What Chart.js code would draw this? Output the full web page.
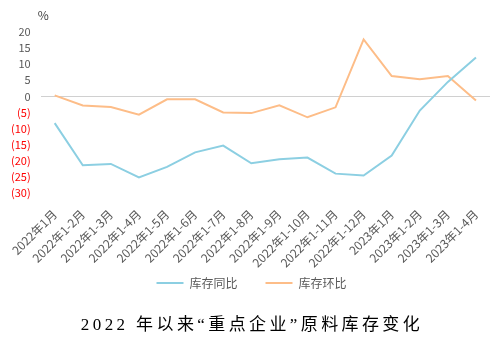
<!DOCTYPE html>
<html>
<head>
<meta charset="utf-8">
<script src="https://cdn.jsdelivr.net/npm/chart.js@4"></script>
<style>
  html, body { margin: 0; padding: 0; background: #fff; }
  #wrap { width: 500px; height: 348px; position: relative; }
</style>
</head>
<body>
<div id="wrap"><canvas id="chartKucun"></canvas></div>
<script>
const months = ['2022年1月', '2022年1-2月', '2022年1-3月', '2022年1-4月', '2022年1-5月', '2022年1-6月',
    '2022年1-7月', '2022年1-8月', '2022年1-9月', '2022年1-10月', '2022年1-11月', '2022年1-12月',
    '2023年1月', '2023年1-2月', '2023年1-3月', '2023年1-4月'];
const tongbi = [-8.3, -21.4, -21.0, -25.2, -21.9, -17.4, -15.3, -20.8, -19.5, -19.0, -24.0, -24.6, -18.4, -4.4, 4.5, 12.1];
const huanbi = [0.3, -2.8, -3.3, -5.7, -0.9, -0.9, -5.0, -5.2, -2.8, -6.5, -3.4, 17.7, 6.3, 5.3, 6.3, -1.3];
const yMin = -30, yMax = 20, yStep = 5;
const chartTitle = '2022 年以来“重点企业”原料库存变化';

const gray = '#595959';
const font = "'Noto Sans CJK SC', 'Noto Sans', sans-serif";
const legendPad = 28;

// pull the legend up a bit, it sits closer to the axis labels than chart.js puts it
const legendShift = {
    id: 'legendShift',
    afterLayout(chart) {
        const lg = chart.legend;
        const d = lg.top + legendPad + 7 - 284;
        lg.top -= d;
        lg.bottom -= d;
        lg.left += 6;
        lg.right += 6;
    }
};

// "%" unit above the y axis and the title under the legend
const extraText = {
    id: 'extraText',
    afterDraw(chart) {
        const ctx = chart.ctx;
        ctx.save();
        ctx.font = '12px ' + font;
        ctx.fillStyle = '#404040';
        ctx.textAlign = 'left';
        ctx.textBaseline = 'middle';
        ctx.fillText('%', chart.scales.y.right - 3, 15);

        ctx.font = "17px 'Liberation Serif', 'Noto Sans CJK SC', serif";
        ctx.letterSpacing = '3.4px';
        ctx.fillStyle = '#000';
        ctx.textAlign = 'center';
        ctx.fillText(chartTitle, chart.width / 2 + 2, 326);
        ctx.restore();
    }
};

const ctx = document.getElementById('chartKucun').getContext('2d');
new Chart(ctx, {
    type: 'line',
    data: {
        labels: months,
        datasets: [{
            label: '库存同比',
            data: tongbi,
            borderColor: '#8ccfe2',
            backgroundColor: '#8ccfe2',
            borderWidth: 2,
            pointRadius: 0,
            tension: 0
        }, {
            label: '库存环比',
            data: huanbi,
            borderColor: '#fdbd88',
            backgroundColor: '#fdbd88',
            borderWidth: 2,
            pointRadius: 0,
            tension: 0
        }]
    },
    options: {
        responsive: true,
        maintainAspectRatio: false,
        animation: false,
        layout: { padding: { left: 1, right: 10, top: 32, bottom: 22 } },
        scales: {
            x: {
                offset: true,
                grid: { display: false },
                border: { display: false },
                ticks: {
                    autoSkip: false,
                    minRotation: 45,
                    maxRotation: 45,
                    padding: 6,
                    color: gray,
                    font: { family: font, size: 12 }
                }
            },
            y: {
                min: yMin,
                max: yMax,
                border: { display: false },
                grid: {
                    drawTicks: false,
                    lineWidth: 1,
                    color: c => c.tick && c.tick.value === 0 ? '#d0d0d0' : 'rgba(0,0,0,0)'
                },
                ticks: {
                    stepSize: yStep,
                    autoSkip: false,
                    padding: 10,
                    color: c => c.tick.value < 0 ? '#ff0000' : gray,
                    font: { family: font, size: 11 },
                    callback: v => v < 0 ? '(' + (-v) + ')' : v
                }
            }
        },
        plugins: {
            legend: {
                position: 'bottom',
                labels: {
                    usePointStyle: true,
                    pointStyle: 'line',
                    pointStyleWidth: 27,
                    boxHeight: 2,
                    padding: legendPad,
                    color: gray,
                    font: { family: font, size: 12 }
                }
            },
            title: { display: false },
            tooltip: { enabled: false }
        }
    },
    plugins: [legendShift, extraText]
});
</script>
</body>
</html>
